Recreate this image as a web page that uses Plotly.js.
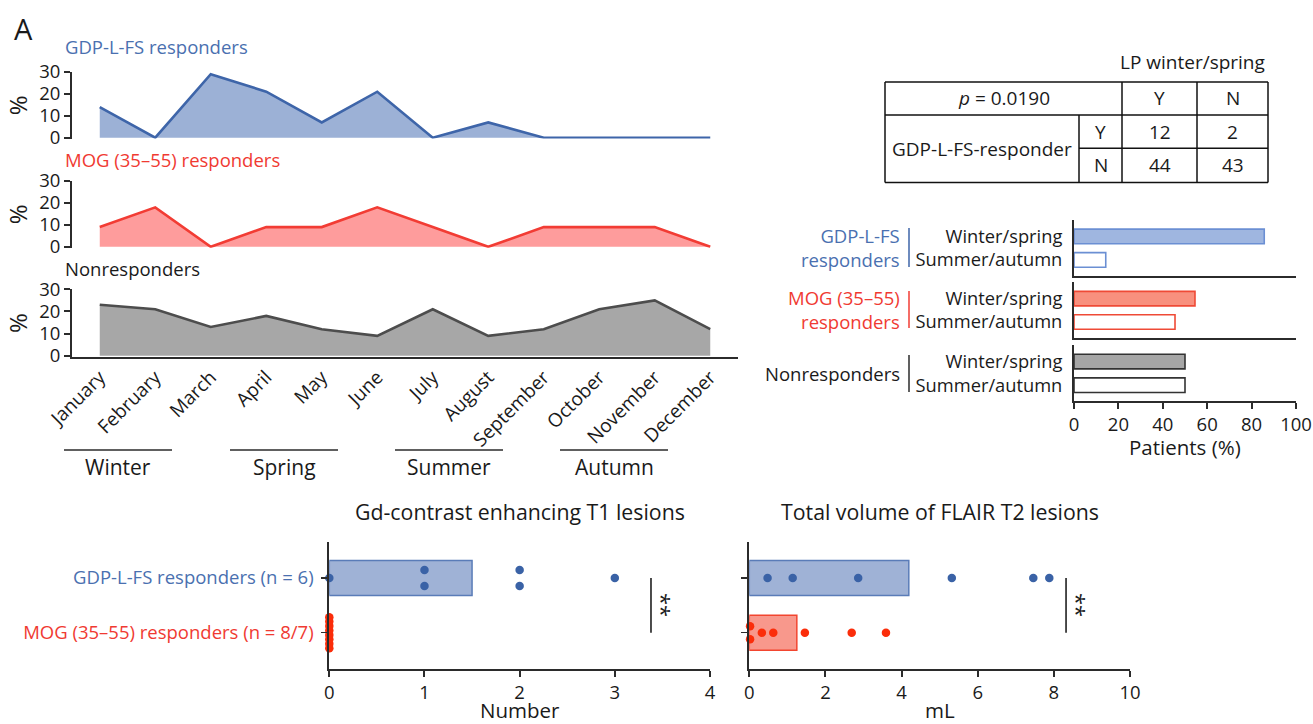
<!DOCTYPE html>
<html><head><meta charset="utf-8">
<script src="https://cdn.plot.ly/plotly-3.0.1.min.js"></script>
<style>html,body{margin:0;padding:0;background:#fff}#chart{width:1313px;height:724px}</style>
</head><body><div id="chart"></div>
<script>
// ---------- data ----------
const months = ['January','February','March','April','May','June','July','August','September','October','November','December'];
const gdpMonthly = [14,0,29,21,7,21,0,7,0,0,0,0];
const mogMonthly = [9,18,0,9,9,18,9,0,9,9,9,0];
const nonMonthly = [23,21,13,18,12,9,21,9,12,21,25,12];
const monthlyTitles = ['GDP-L-FS responders','MOG (35–55) responders','Nonresponders'];
const seasons = ['Winter','Spring','Summer','Autumn'];

const seasonCategories = ['Winter/spring','Summer/autumn'];
const gdpSeason = [85.7,14.3];
const mogSeason = [54.5,45.5];
const nonSeason = [50,50];
const groupNames = ['GDP-L-FS<br>responders','MOG (35–55)<br>responders','Nonresponders'];
const seasonAxisTitle = 'Patients (%)';

const tableTitle = 'LP winter/spring';
const tableRowHeader = 'GDP-L-FS-responder';
const tableRowLabels = ['Y','N'];
const tableColLabels = ['Y','N'];
const tableCounts = [[12,2],[44,43]];
const pValueText = '0.0190';

const lesionGroups = ['GDP-L-FS responders (n = 6)','MOG (35–55) responders (n = 8/7)'];
const gdT1Gdp = [0,1,1,2,2,3];
const gdT1Mog = [0,0,0,0,0,0,0,0];
const flairGdp = [0.48,1.14,2.86,5.32,7.46,7.88];
const flairMog = [0.02,0.02,0.33,0.63,1.46,2.69,3.59];
const lesionTitles = ['Gd-contrast enhancing T1 lesions','Total volume of FLAIR T2 lesions'];
const lesionUnits = ['Number','mL'];

// ---------- style ----------
const W = 1313, H = 724;
const X = px => px / W;
const Y = py => 1 - py / H;
const FONT = 'Open Sans, Noto Sans, sans-serif';
const TXT = '#1a1a1a';
const AX = '#2b2b2b';
const C = {
  blueLine:'#3e65a9', blueFill:'#9cb1d6', blueText:'#4a70b0',
  redLine:'#f23c34', redFill:'#fe9c9c', redText:'#f03a32',
  grayLine:'#4d4d4d', grayFill:'#a7a7a7',
  rbBlueFill:'#9fb6e0', rbBlueLine:'#6b8fd3',
  rbRedFill:'#f8907e', rbRedLine:'#ef4a36',
  rbGrayFill:'#a6a6a6', rbGrayLine:'#333333',
  lbBlueFill:'#9fb2d6', lbBlueLine:'#5a7cb8',
  lbRedFill:'#f8988c', lbRedLine:'#f2452f',
  dotBlue:'#3a62a6', dotRed:'#fb2d0a'
};
const mean = a => a.reduce((s,v)=>s+v,0)/a.length;

function swarm(values, pxPerUnit, stepPx, maxSpanPx){
  const counts = {}; values.forEach(v => counts[v]=(counts[v]||0)+1);
  const seen = {};
  return values.map(v => {
    const k = counts[v];
    seen[v] = (seen[v]===undefined) ? 0 : seen[v]+1;
    if (k === 1) return 0;
    const step = Math.min(stepPx, maxSpanPx/(k-1));
    return ((seen[v]-(k-1)/2)*step)/pxPerUnit;
  });
}

const traces = [];
const layout = {
  width: W, height: H, autosize:false,
  margin:{l:0,r:0,t:0,b:0}, paper_bgcolor:'#fff', plot_bgcolor:'rgba(0,0,0,0)',
  showlegend:false, font:{family:FONT, color:TXT, size:18},
  annotations:[], shapes:[]
};
const pAnn = (x,y,text,size,color,anchor,extra) => layout.annotations.push(Object.assign({xref:'paper', yref:'paper', x:X(x), y:Y(y),
  xanchor:anchor||'center', yanchor:'middle', text:text, showarrow:false, borderpad:0, font:{size:size, color:color||TXT}}, extra||{}));

// ---------- monthly area charts ----------
const areaSpecs = [
  {vals:gdpMonthly, line:C.blueLine, fill:C.blueFill, title:monthlyTitles[0], tcol:C.blueText, y0:138.6, y1:72, titleY:47},
  {vals:mogMonthly, line:C.redLine, fill:C.redFill, title:monthlyTitles[1], tcol:C.redText, y0:247.7, y1:181, titleY:159},
  {vals:nonMonthly, line:C.grayLine, fill:C.grayFill, title:monthlyTitles[2], tcol:TXT, y0:356.7, y1:289.3, titleY:268}
];
areaSpecs.forEach((s,i) => {
  const n = i+1, xs = n===1?'x':'x'+n, ys = n===1?'y':'y'+n;
  traces.push({type:'scatter', mode:'lines', x:months, y:s.vals, xaxis:xs, yaxis:ys,
    fill:'tozeroy', fillcolor:s.fill, line:{color:s.line, width:2.6}, hoverinfo:'skip'});
  const xk = n===1?'xaxis':'xaxis'+n, yk = n===1?'yaxis':'yaxis'+n;
  layout[xk] = {domain:[X(72),X(738)], anchor:ys, type:'category', range:[-0.5,11.5],
    showgrid:false, zeroline:false, showline:(n===3), linecolor:AX, linewidth:2,
    ticks:'', showticklabels:(n===3), tickangle:-45, tickfont:{size:19, color:TXT}};
  layout[yk] = {domain:[Y(s.y0),Y(s.y1)], anchor:xs, range:[-0.4,30], tickvals:[0,10,20,30],
    showgrid:false, zeroline:false, showline:true, linecolor:AX, linewidth:2,
    ticks:'outside', ticklen:6, tickwidth:2, tickcolor:AX, tickfont:{size:18.5, color:TXT},
    title:{text:'%', font:{size:24, color:TXT}, standoff:5}};
  pAnn(64, s.titleY, s.title, 18.5, s.tcol, 'left');
});
// season brackets
const seasonPx = [[64,172],[230,338],[395,503],[560,668]];
seasons.forEach((name,i) => {
  const [a,b] = seasonPx[i];
  layout.shapes.push({type:'line', xref:'paper', yref:'paper', x0:X(a), x1:X(b), y0:Y(450), y1:Y(450), line:{color:AX, width:1.5}});
  pAnn((a+b)/2, 467, name, 21);
});
pAnn(13, 28, 'A', 29, TXT, 'left');

// ---------- table ----------
const tx = [885,1079,1122,1197,1268], ty = [82,115,148.3,182.6];
const tl = (x0,y0,x1,y1) => layout.shapes.push({type:'line', xref:'paper', yref:'paper', x0:X(x0), x1:X(x1), y0:Y(y0), y1:Y(y1), line:{color:'#111', width:1.5}});
tl(tx[0],ty[0],tx[4],ty[0]); tl(tx[0],ty[1],tx[4],ty[1]); tl(tx[1],ty[2],tx[4],ty[2]); tl(tx[0],ty[3],tx[4],ty[3]);
tl(tx[0],ty[0],tx[0],ty[3]); tl(tx[1],ty[1],tx[1],ty[3]); tl(tx[2],ty[0],tx[2],ty[3]); tl(tx[3],ty[0],tx[3],ty[3]); tl(tx[4],ty[0],tx[4],ty[3]);
pAnn(1266, 62, tableTitle, 19, TXT, 'right');
pAnn((tx[0]+tx[2])/2, (ty[0]+ty[1])/2, '<i>p</i> = ' + pValueText, 19);
pAnn((tx[2]+tx[3])/2, (ty[0]+ty[1])/2, tableColLabels[0], 19);
pAnn((tx[3]+tx[4])/2, (ty[0]+ty[1])/2, tableColLabels[1], 19);
pAnn((tx[0]+tx[1])/2, (ty[1]+ty[3])/2, tableRowHeader, 19);
tableRowLabels.forEach((r,i) => {
  const yc = (ty[i+1]+ty[i+2])/2;
  pAnn((tx[1]+tx[2])/2, yc, r, 19);
  pAnn((tx[2]+tx[3])/2, yc, String(tableCounts[i][0]), 19);
  pAnn((tx[3]+tx[4])/2, yc, String(tableCounts[i][1]), 19);
});

// ---------- seasonal bar panels ----------
const rbSpecs = [
  {vals:gdpSeason, fill:C.rbBlueFill, line:C.rbBlueLine, top:220, bot:275.7, name:groupNames[0], tcol:C.blueText, bcol:C.blueLine, b0:228, b1:267},
  {vals:mogSeason, fill:C.rbRedFill, line:C.rbRedLine, top:282.3, bot:337.7, name:groupNames[1], tcol:C.redText, bcol:C.redLine, b0:291, b1:328},
  {vals:nonSeason, fill:C.rbGrayFill, line:C.rbGrayLine, top:345, bot:401, name:groupNames[2], tcol:TXT, bcol:AX, b0:355, b1:392}
];
rbSpecs.forEach((s,i) => {
  const n = i+4;
  traces.push({type:'bar', orientation:'h', x:s.vals, y:seasonCategories, xaxis:'x'+n, yaxis:'y'+n, width:0.62,
    marker:{color:[s.fill,'#ffffff'], line:{color:s.line, width:1.6}}, hoverinfo:'skip'});
  const last = (i===2);
  layout['xaxis'+n] = {domain:[X(1074),X(1296)], anchor:'y'+n, range:[0,100], showgrid:false, zeroline:false,
    showline:true, linecolor:AX, linewidth:2, ticks:last?'outside':'', ticklen:6, tickwidth:2, tickcolor:AX,
    tickvals:[0,20,40,60,80,100], showticklabels:last, tickfont:{size:18.5, color:TXT}};
  layout['yaxis'+n] = {domain:[Y(s.bot),Y(s.top)], anchor:'x'+n, type:'category',
    categoryarray:seasonCategories.slice().reverse(), categoryorder:'array', range:[-0.67,1.7],
    showgrid:false, zeroline:false, showline:true, linecolor:AX, linewidth:2, ticks:'',
    ticklabelstandoff:6, tickfont:{size:18.3, color:TXT}};
  pAnn(901, (s.b0+s.b1)/2, s.name, 18.5, s.tcol, 'right', {align:'right'});
  layout.shapes.push({type:'line', xref:'paper', yref:'paper', x0:X(909), x1:X(909), y0:Y(s.b0), y1:Y(s.b1), line:{color:s.bcol, width:1.5}});
});
pAnn((1074+1296)/2, 447, seasonAxisTitle, 20.5);

// ---------- lesion charts ----------
const yTop = 541.7, yBot = 669, yRange = [-0.664, 1.664];
const pxPerUnit = (yBot-yTop)/(yRange[1]-yRange[0]);
const lesionSpecs = [
  {gdp:gdT1Gdp, mog:gdT1Mog, x0:329.3, x1:710, range:[0,4], dtick:1, sigX:3.38, starX:3.5, n:7},
  {gdp:flairGdp, mog:flairMog, x0:749.3, x1:1130, range:[0,10], dtick:2, sigX:8.32, starX:8.62, n:8}
];
lesionSpecs.forEach((s,i) => {
  const xa = 'x'+s.n, ya = 'y'+s.n;
  // bars (group means), GDP at y=1, MOG at y=0
  traces.push({type:'bar', orientation:'h', x:[mean(s.gdp)], y:[1], xaxis:xa, yaxis:ya, width:0.64,
    marker:{color:C.lbBlueFill, line:{color:C.lbBlueLine, width:1.5}}, hoverinfo:'skip'});
  traces.push({type:'bar', orientation:'h', x:[mean(s.mog)], y:[0], xaxis:xa, yaxis:ya, width:0.64,
    marker:{color:C.lbRedFill, line:{color:C.lbRedLine, width:1.5}}, hoverinfo:'skip'});
  const og = swarm(s.gdp, pxPerUnit, 16, 31), om = swarm(s.mog, pxPerUnit, 13, 31);
  traces.push({type:'scatter', mode:'markers', x:s.gdp, y:s.gdp.map((v,k)=>1+og[k]), xaxis:xa, yaxis:ya,
    marker:{color:C.dotBlue, size:8.5}, cliponaxis:false, hoverinfo:'skip'});
  traces.push({type:'scatter', mode:'markers', x:s.mog, y:s.mog.map((v,k)=>0+om[k]), xaxis:xa, yaxis:ya,
    marker:{color:C.dotRed, size:8.5}, cliponaxis:false, hoverinfo:'skip'});
  layout['xaxis'+s.n] = {domain:[X(s.x0),X(s.x1)], anchor:ya, range:s.range, dtick:s.dtick, tick0:0,
    showgrid:false, zeroline:false, showline:true, linecolor:AX, linewidth:2, ticks:'outside', ticklen:6, tickwidth:2, tickcolor:AX,
    tickfont:{size:18.5, color:TXT}};
  layout['yaxis'+s.n] = {domain:[Y(yBot),Y(yTop)], anchor:xa, range:yRange, tickvals:[1,0],
    ticktext: i===0 ? ['<span style="color:'+C.blueText+'">'+lesionGroups[0]+'</span>','<span style="color:'+C.redText+'">'+lesionGroups[1]+'</span>'] : ['',''],
    showgrid:false, zeroline:false, showline:true, linecolor:AX, linewidth:2, ticks:'outside', ticklen:6, tickwidth:1.5, tickcolor:AX,
    ticklabelstandoff:4, tickfont:{size:18.5, color:TXT}};
  layout.shapes.push({type:'line', xref:xa, yref:ya, x0:s.sigX, x1:s.sigX, y0:0, y1:1, line:{color:'#111', width:1.5}});
  layout.annotations.push({xref:xa, yref:ya, x:s.starX, y:0.5, text:'**', textangle:90, showarrow:false,
    xanchor:'center', yanchor:'middle', font:{size:22, color:TXT}});
  pAnn((s.x0+s.x1)/2, 511, lesionTitles[i], 21.3);
  pAnn((s.x0+s.x1)/2, 710, lesionUnits[i], 20.5);
});

Plotly.newPlot('chart', traces, layout, {displayModeBar:false, staticPlot:true});
</script>
</body></html>
